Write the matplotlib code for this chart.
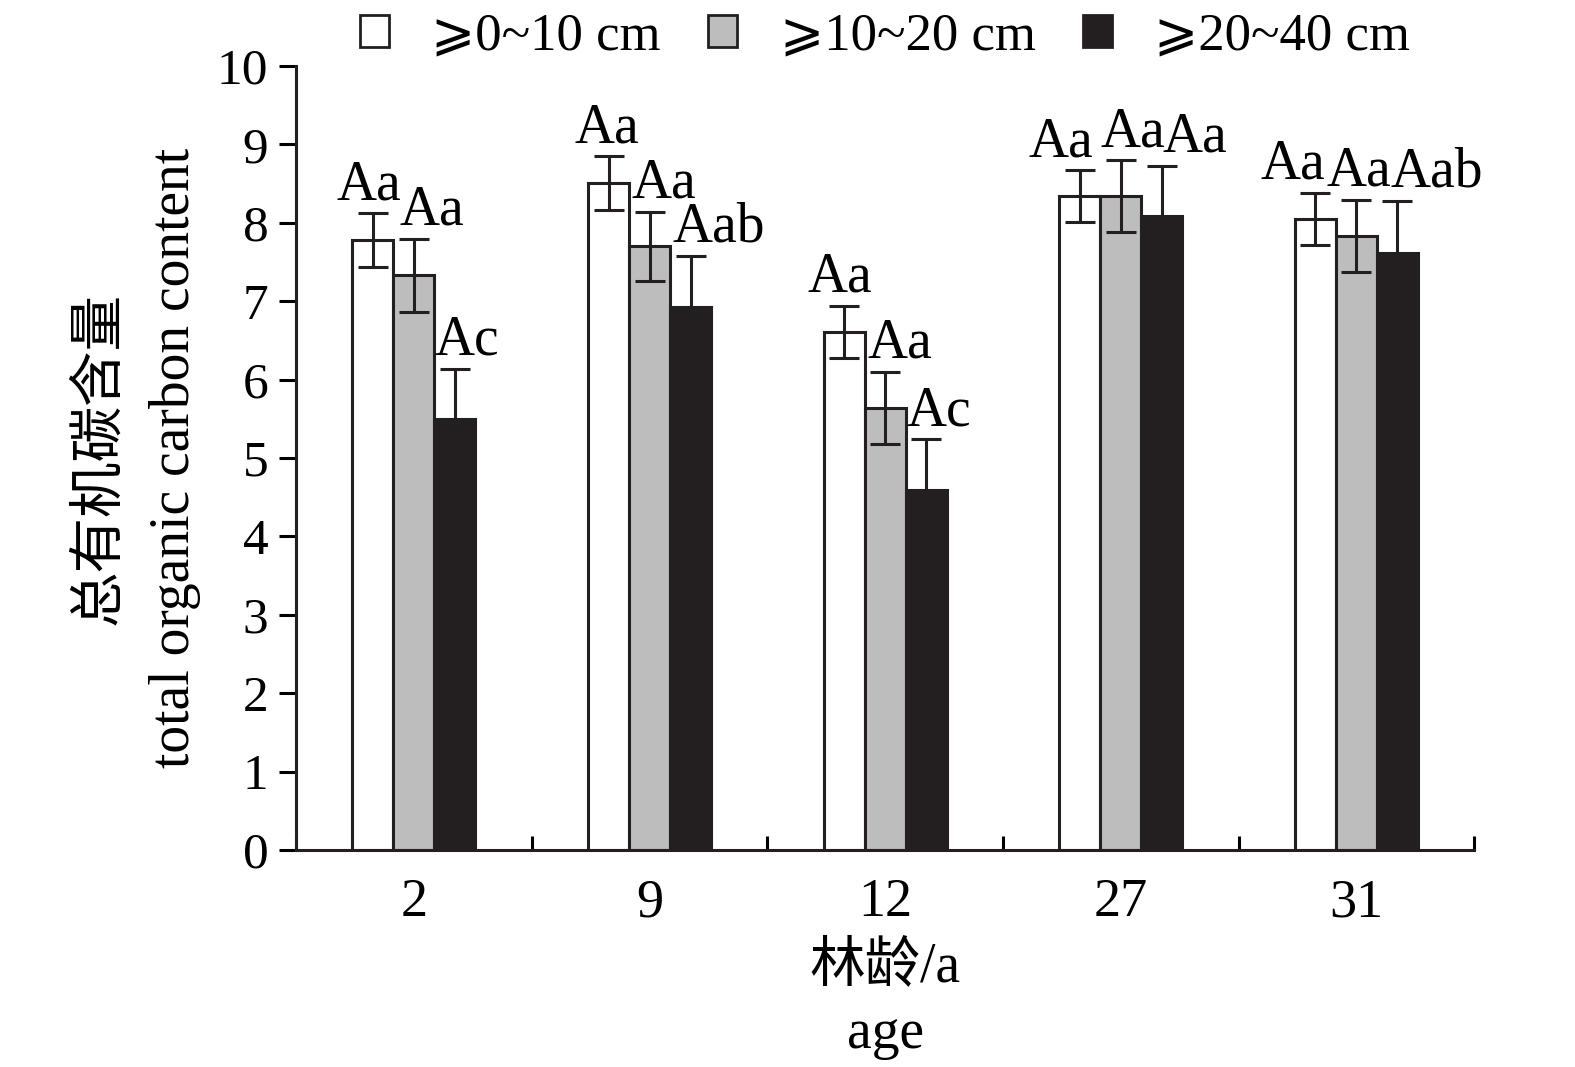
import numpy as np
import matplotlib
matplotlib.use('Agg')
import matplotlib.pyplot as plt
from matplotlib.patches import Patch

# Fonts: Times-like serif, CJK fallback
fams = ['Liberation Serif', 'DejaVu Serif', 'DejaVu Sans', 'Noto Sans CJK SC']
matplotlib.rc('font', family=fams, size=37)

# Data
ages = ['2', '9', '12', '27', '31']
depths = ['⩾0~10 cm', '⩾10~20 cm', '⩾20~40 cm']
toc_0_10 = [7.78, 8.51, 6.61, 8.34, 8.05]
toc_10_20 = [7.33, 7.70, 5.64, 8.34, 7.83]
toc_20_40 = [5.50, 6.93, 4.59, 8.09, 7.61]
err_0_10 = [0.34, 0.34, 0.33, 0.33, 0.33]
err_10_20 = [0.47, 0.44, 0.46, 0.46, 0.46]
err_20_40 = [0.64, 0.65, 0.65, 0.64, 0.67]
sig_0_10 = ['Aa', 'Aa', 'Aa', 'Aa', 'Aa']
sig_10_20 = ['Aa', 'Aa', 'Aa', 'Aa', 'Aa']
sig_20_40 = ['Ac', 'Aab', 'Ac', 'Aa', 'Aab']

vals = [toc_0_10, toc_10_20, toc_20_40]
errs = [err_0_10, err_10_20, err_20_40]
sigs = [sig_0_10, sig_10_20, sig_20_40]
colours = ['white', '#bdbdbd', '#231f20']
# label x shifts (in bar widths) to mimic the original placement
shifts = [[-0.1, -0.05, -0.1, -0.45, -0.55],
          [0.45, 0.35, 0.35, 0.3, 0.05],
          [0.3, 0.7, 0.3, 0.8, 0.95]]

F1 = plt.figure(figsize=(15.75, 10.67), dpi=100)
ax = F1.add_axes([0.188, 0.2034, 0.748, 0.7347])

x = np.arange(len(ages))
w = 0.174
lw = 2.2
for i in range(3):
    xs = x + (i - 1) * w
    ax.bar(xs, vals[i], w, color=colours[i], edgecolor='#231f20', linewidth=lw, zorder=2)
    ax.errorbar(xs, vals[i], yerr=errs[i], fmt='none', ecolor='#231f20',
                elinewidth=lw, capsize=11, capthick=lw, zorder=3)
    for j in range(len(ages)):
        top = vals[i][j] + errs[i][j]
        ax.text(xs[j] + shifts[i][j] * w, top + 0.18, sigs[i][j],
                ha='center', va='baseline', fontsize=40, zorder=4)

ax.set_xlim(-0.5, 4.5)
ax.set_ylim(0, 10)
ax.set_yticks(range(0, 11))
ax.set_xticks(x)
ax.set_xticklabels(ages)
ax.set_xticks(np.arange(-0.5, 5.0, 1.0), minor=True)
ax.tick_params(axis='x', which='major', length=0, pad=20, labelsize=39)
ax.tick_params(axis='x', which='minor', direction='in', length=10, width=lw)
ax.tick_params(axis='y', direction='out', length=12, width=lw, pad=8, labelsize=37)
for s in ['top', 'right']:
    ax.spines[s].set_visible(False)
for s in ['left', 'bottom']:
    ax.spines[s].set_linewidth(lw)
    ax.spines[s].set_color('#231f20')

# axis titles
ax.text(0.5, -0.15, '林龄/a', transform=ax.transAxes, ha='center', va='center', fontsize=40)
ax.text(0.5, -0.235, 'age', transform=ax.transAxes, ha='center', va='center', fontsize=40)
F1.text(100 / 1575, 1 - 458 / 1067, '总有机碳含量', rotation=90, ha='center', va='center', fontsize=40)
F1.text(175 / 1575, 1 - 458 / 1067, 'total organic carbon content', rotation=90,
        ha='center', va='center', fontsize=40)

handles = [Patch(facecolor=c, edgecolor='#231f20', linewidth=2) for c in colours]
ax.legend(handles, depths, loc='lower center', bbox_to_anchor=(0.5, 0.98), ncol=3,
          frameon=False, fontsize=38, handlelength=0.55, handleheight=0.55,
          handletextpad=0.8, columnspacing=0.9, borderaxespad=0)

F1.savefig('out.png', dpi=100)
